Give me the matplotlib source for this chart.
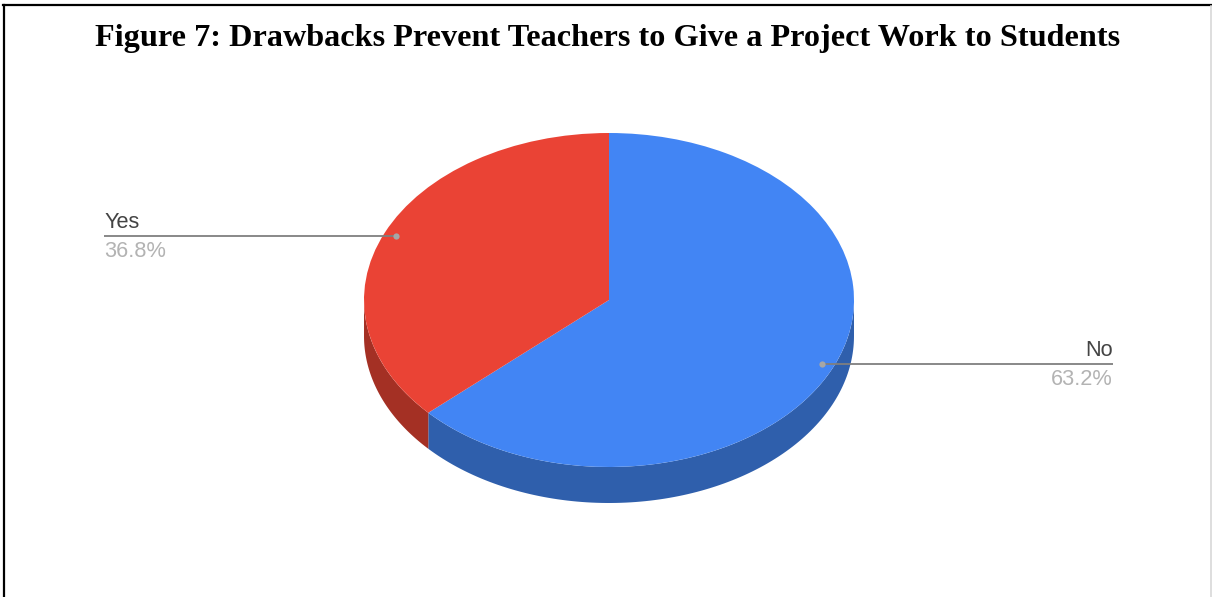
import numpy as np
import matplotlib
matplotlib.use("Agg")
import matplotlib.pyplot as plt

title = "Figure 7: Drawbacks Prevent Teachers to Give a Project Work to Students"
labels = ["No", "Yes"]
values = [63.2, 36.8]
colors = ["#4285f4", "#ea4335"]
dark_colors = ["#2f5fac", "#a43024"]

W, H = 1212, 597
cx, cy = 609, 300
rx, ry = 245, 167
depth = 36


def px(x):
    return (x - cx) / rx


def py(y):
    return (cy - y) / ry


fig = plt.figure(figsize=(W / 100, H / 100), dpi=100, facecolor="white")
ax = fig.add_axes([0, 0, 1, 1])

# pie in unit coords, the squashed limits below turn it into the tilted ellipse
ax.pie(values, colors=colors, startangle=90, counterclock=False, radius=1,
       wedgeprops={"linewidth": 0, "zorder": 3})
ax.set_aspect("auto")
ax.set_xlim(px(0), px(W))
ax.set_ylim(py(H), py(0))
ax.axis("off")

# side wall, only the part of each slice facing front
d = depth / ry
start = 90.0
for val, dark, name in zip(values, dark_colors, labels):
    end = start - val * 3.6
    a = np.radians(np.linspace(start, end, 200))
    a = a[np.sin(a) <= 0]
    if len(a):
        xs = np.cos(a)
        ys = np.sin(a)
        ax.fill(np.r_[xs, xs[::-1]], np.r_[ys, ys[::-1] - d], color=dark, lw=0, zorder=2)

    mid = np.radians((start + end) / 2)
    dx, dy = 0.95 * np.cos(mid), 0.95 * np.sin(mid)
    right = np.cos(mid) > 0
    edge = px(1113) if right else px(104)
    ax.plot([dx, edge], [dy, dy], color="#7f7f7f", lw=1.3, zorder=4, solid_capstyle="butt")
    ax.plot([dx], [dy], "o", color="#a6a6a6", ms=4.5, mew=0, zorder=5)
    ha = "right" if right else "left"
    tx = px(1113) if right else px(104)
    ax.annotate(name, (tx, dy), xytext=(0, 3), textcoords="offset pixels", ha=ha, va="bottom",
                fontsize=15.7, family="Liberation Sans", color="#444444", zorder=5)
    ax.annotate(f"{val}%", (tx, dy), xytext=(0, -5), textcoords="offset pixels", ha=ha, va="top",
                fontsize=15.7, family="Liberation Sans", color="#b3b3b3", zorder=5)
    start = end

ax.text(px(608), py(38.5), title, ha="center", va="center", fontsize=23.2,
        family="Liberation Serif", fontweight="bold", color="black")

# page frame around the figure
ax.plot([px(4), px(4)], [py(H), py(5)], color="black", lw=1.6, clip_on=False)
ax.plot([px(3), px(1212)], [py(5), py(5)], color="black", lw=1.6, clip_on=False)
ax.plot([px(1211), px(1211)], [py(6), py(H)], color="#d8d8d8", lw=1.2, clip_on=False)

fig.savefig("out.png", dpi=100)
